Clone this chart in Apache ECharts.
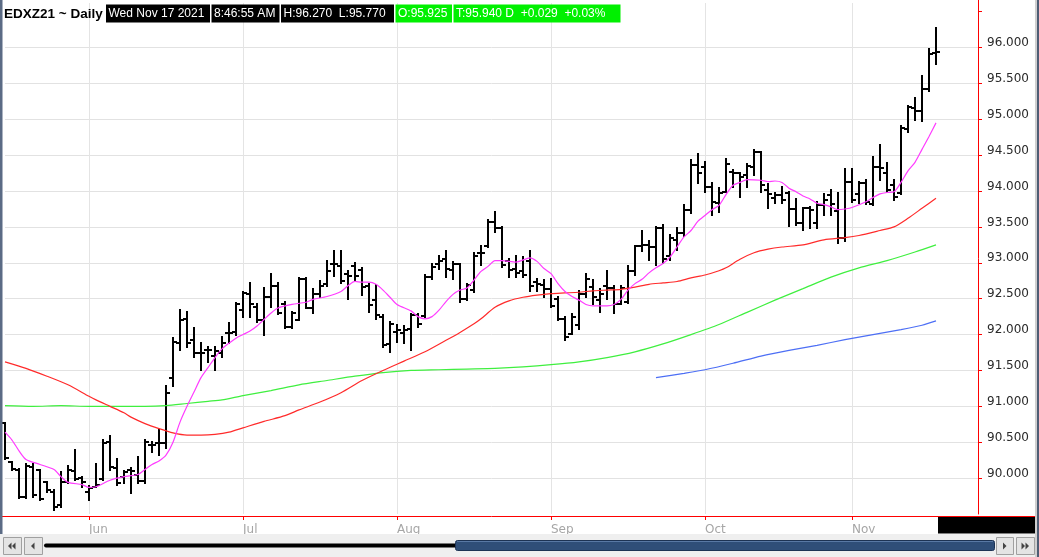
<!DOCTYPE html>
<html>
<head>
<meta charset="utf-8">
<script src="https://cdn.jsdelivr.net/npm/echarts@6/dist/echarts.min.js"></script>
<style>
  html, body { margin: 0; padding: 0; background: #fff; }
  #chart { width: 1039px; height: 557px; }
</style>
</head>
<body>
<div id="chart"></div>
<script>
// month labels and the bar index each one sits on
const monthLabels = ["Jun", "Jul", "Aug", "Sep", "Oct", "Nov"];
const monthStart = [12, 34, 56, 78, 100, 121];
const slotCount = 140; // bars plus empty room on the right

// daily OHLC, EDXZ21
const opens = [90.77,90.23,90.12,89.74,90.16,90.11,89.94,89.81,89.62,89.95,
  90.10,90.00,89.80,89.88,89.99,90.50,90.14,90.01,90.12,90.05,
  89.96,90.46,90.49,90.49,91.39,91.88,92.22,91.93,91.74,91.78,
  91.70,91.74,92.02,92.03,92.34,92.56,92.39,92.21,92.53,92.67,
  92.42,92.10,92.21,92.77,92.37,92.56,92.70,92.98,92.95,92.84,
  92.95,92.90,92.68,92.48,92.24,91.87,92.04,92.02,92.08,92.27,
  92.26,92.80,92.99,93.06,92.90,92.99,92.50,92.62,93.13,93.24,
  93.57,93.48,93.02,92.92,92.88,93.03,92.73,92.69,92.64,92.50,
  92.22,92.01,92.14,92.57,92.66,92.48,92.67,92.65,92.42,92.46,
  92.88,93.23,93.25,93.22,93.48,93.09,93.32,93.41,93.74,94.36,
  94.34,94.06,93.83,93.99,94.27,94.25,94.22,94.33,94.55,94.02,
  93.90,93.94,93.97,93.75,93.56,93.76,93.55,93.80,93.94,93.72,
  93.35,94.13,93.96,94.11,93.82,94.34,94.25,94.08,93.97,94.87,
  95.16,95.12,95.42,95.925];
const highs = [90.77,90.23,90.13,90.19,90.20,90.11,89.95,89.84,90.08,90.17,
  90.39,90.02,89.89,90.19,90.53,90.58,90.27,90.10,90.14,90.30,
  90.53,90.51,90.67,91.28,91.95,92.34,92.31,92.09,91.88,91.83,
  91.83,91.97,92.16,92.44,92.60,92.72,92.42,92.65,92.84,92.72,
  92.46,92.32,92.79,92.79,92.63,92.74,93.02,93.16,93.16,92.88,
  93.00,92.93,92.71,92.69,92.27,92.17,92.13,92.12,92.29,92.29,
  92.83,92.99,93.10,93.17,93.01,92.99,92.71,93.13,93.24,93.59,
  93.71,93.50,93.06,93.10,93.08,93.17,92.78,92.76,92.78,92.52,
  92.24,92.29,92.61,92.85,92.76,92.64,92.88,92.67,92.67,92.95,
  93.23,93.44,93.30,93.50,93.53,93.39,93.48,93.81,94.43,94.52,
  94.41,94.11,94.04,94.45,94.29,94.25,94.38,94.57,94.55,94.10,
  93.97,94.06,93.99,93.89,93.77,93.78,93.85,93.96,94.01,93.97,
  94.31,94.31,94.13,94.16,94.48,94.64,94.39,94.15,94.90,95.19,
  95.29,95.60,95.98,96.27];
const lows = [90.27,90.12,89.72,89.72,89.74,89.69,89.80,89.56,89.60,89.93,
  89.97,89.88,89.70,89.87,89.97,90.12,89.90,89.93,89.79,89.93,
  89.93,90.37,90.32,90.42,91.28,91.79,91.83,91.69,91.51,91.62,
  91.51,91.69,91.88,92.00,92.25,92.25,92.18,92.00,92.39,92.28,
  92.09,92.09,92.21,92.37,92.30,92.53,92.67,92.81,92.72,92.49,
  92.74,92.55,92.31,92.22,91.83,91.76,91.90,91.88,91.78,92.10,
  92.24,92.78,92.92,92.80,92.78,92.45,92.48,92.59,92.97,93.22,
  93.43,92.94,92.80,92.80,92.80,92.61,92.61,92.52,92.38,92.20,
  91.92,92.01,92.08,92.52,92.43,92.31,92.49,92.30,92.42,92.44,
  92.83,93.16,93.04,92.97,93.00,93.04,93.18,93.37,93.69,94.11,
  93.99,93.67,93.71,93.99,94.06,93.92,94.06,94.23,93.99,93.76,
  93.83,93.83,93.51,93.53,93.46,93.48,93.48,93.67,93.66,93.27,
  93.31,93.85,93.83,93.82,93.80,94.15,93.99,93.87,93.96,94.82,
  94.99,94.97,95.40,95.77];
const closes = [90.28,90.13,89.73,90.17,89.77,89.71,89.84,89.60,89.95,90.11,
  89.99,89.95,89.86,89.90,90.49,90.15,89.93,90.08,90.10,89.96,
  90.50,90.46,90.49,91.18,91.90,92.20,91.88,91.74,91.74,91.78,
  91.77,91.88,92.02,92.42,92.58,92.42,92.21,92.53,92.67,92.30,
  92.11,92.30,92.77,92.37,92.56,92.67,92.88,92.98,92.74,92.81,
  92.81,92.66,92.41,92.27,91.85,92.15,92.06,92.07,92.27,92.15,
  92.80,92.94,93.03,92.92,92.99,92.50,92.69,93.10,93.13,93.57,
  93.48,92.97,92.90,92.86,92.83,92.68,92.71,92.64,92.40,92.22,
  91.96,92.24,92.57,92.78,92.52,92.57,92.65,92.42,92.65,92.88,
  93.23,93.25,93.22,93.48,93.06,93.34,93.41,93.74,94.36,94.25,
  94.06,93.85,93.97,94.38,94.25,94.20,94.35,94.55,94.08,93.96,
  93.94,93.88,93.75,93.56,93.76,93.74,93.80,93.88,93.82,93.34,
  94.13,93.88,94.11,93.85,94.34,94.32,94.01,93.92,94.88,95.17,
  95.12,95.42,95.91,95.94];

// moving averages, [bar index, value]
const maFast = [[0,90.64],[1,90.53],[2,90.38],[3,90.26],[5,90.19],[7,90.12],[8,90.02],[9,89.94],[11,89.91],[12,89.87],
  [13,89.88],[15,89.97],[17,90.02],[19,90.05],[20,90.12],[21,90.19],[22,90.24],[23,90.32],[24,90.50],[25,90.78],
  [26,91.00],[27,91.20],[28,91.40],[29,91.54],[30,91.68],[31,91.80],[32,91.88],[33,91.95],[34,92.00],[35,92.05],
  [36,92.12],[37,92.21],[38,92.30],[39,92.37],[41,92.42],[43,92.45],[44,92.49],[46,92.53],[48,92.60],[49,92.68],
  [50,92.74],[51,92.73],[52,92.73],[53,92.70],[54,92.62],[55,92.52],[56,92.42],[58,92.33],[59,92.25],[60,92.22],
  [61,92.25],[62,92.34],[63,92.46],[64,92.56],[65,92.62],[66,92.65],[67,92.76],[68,92.88],[69,92.95],[70,93.03],
  [71,93.03],[73,93.01],[75,93.07],[76,93.02],[77,92.92],[78,92.85],[79,92.71],[80,92.60],[81,92.53],[82,92.48],
  [83,92.42],[84,92.40],[86,92.40],[87,92.42],[88,92.49],[89,92.62],[90,92.71],[91,92.77],[92,92.86],[93,92.93],
  [94,92.99],[95,93.08],[96,93.22],[97,93.36],[98,93.45],[99,93.58],[100,93.66],[101,93.74],[102,93.80],[103,93.95],
  [104,94.08],[105,94.12],[106,94.16],[108,94.15],[109,94.13],[110,94.14],[111,94.12],[112,94.04],[113,93.99],[114,93.93],
  [115,93.89],[116,93.83],[117,93.81],[118,93.78],[119,93.74],[120,93.75],[121,93.77],[123,93.85],[124,93.91],[125,93.96],
  [126,93.98],[127,93.99],[128,94.12],[129,94.28],[130,94.40],[131,94.58],[132,94.76],[133,94.95]];
const maMid = [[0,91.62],[3,91.53],[6,91.42],[9,91.30],[12,91.14],[13,91.09],[15,91.00],[17,90.91],[18,90.85],[20,90.76],
  [22,90.69],[24,90.63],[26,90.60],[28,90.60],[30,90.61],[32,90.64],[34,90.70],[37,90.79],[40,90.87],[42,90.95],
  [45,91.06],[48,91.19],[51,91.36],[54,91.50],[57,91.63],[60,91.76],[63,91.92],[65,92.03],[67,92.15],[68,92.22],
  [70,92.38],[72,92.47],[74,92.52],[76,92.55],[78,92.57],[80,92.58],[82,92.59],[84,92.61],[86,92.62],[88,92.63],
  [90,92.66],[92,92.70],[94,92.72],[96,92.74],[98,92.79],[100,92.83],[102,92.89],[103,92.93],[105,93.05],[107,93.14],
  [109,93.19],[111,93.22],[114,93.25],[117,93.32],[120,93.35],[122,93.38],[125,93.45],[127,93.50],[129,93.62],[131,93.76],
  [133,93.90]];
const maSlow = [[0,91.01],[4,91.00],[8,91.01],[12,91.00],[16,91.00],[20,91.00],[23,91.01],[26,91.04],[29,91.07],[31,91.09],
  [34,91.15],[38,91.22],[42,91.30],[46,91.36],[50,91.42],[54,91.47],[58,91.50],[62,91.51],[66,91.52],[70,91.53],
  [74,91.55],[78,91.58],[82,91.62],[86,91.68],[90,91.76],[94,91.87],[98,92.00],[102,92.14],[106,92.31],[110,92.48],
  [114,92.64],[118,92.80],[122,92.93],[126,93.03],[130,93.15],[133,93.25]];
const maLong = [[93,91.40],[97,91.46],[100,91.51],[104,91.60],[108,91.70],[112,91.78],[116,91.85],[120,91.93],[124,92.00],
  [128,92.07],[131,92.13],[133,92.19]];

const slots = [];
for (let i = 0; i < slotCount; i++) slots.push(String(i));
const ohlc = opens.map((o, i) => [i, o, highs[i], lows[i], closes[i]]);
const isMonth = (i) => monthStart.indexOf(i) >= 0;

const chart = echarts.init(document.getElementById("chart"), null, { renderer: "canvas" });

function renderBar(params, api) {
  const x = Math.round(api.coord([api.value(0), 0])[0]);
  const yO = Math.round(api.coord([api.value(0), api.value(1)])[1]);
  const yH = Math.round(api.coord([api.value(0), api.value(2)])[1]);
  const yL = Math.round(api.coord([api.value(0), api.value(3)])[1]);
  const yC = Math.round(api.coord([api.value(0), api.value(4)])[1]);
  const st = { stroke: "#000", lineWidth: 2 };
  return {
    type: "group",
    children: [
      { type: "line", shape: { x1: x, y1: yH - 1, x2: x, y2: yL + 1 }, style: st },
      { type: "line", shape: { x1: x - 4, y1: yO, x2: x, y2: yO }, style: st },
      { type: "line", shape: { x1: x, y1: yC, x2: x + 4, y2: yC }, style: st },
    ],
  };
}

function maLine(data, color) {
  return {
    type: "line", data: data, showSymbol: false, smooth: 0.25, silent: true, z: 3,
    lineStyle: { color: color, width: 1.2 },
  };
}

// horizontal grid colours, the last (96.5) one hidden
const hLineColors = [];
for (let i = 0; i < 13; i++) hLineColors.push("#e2e2e2");
hLineColors.push("rgba(0,0,0,0)");

const hdrFont = '12px "Liberation Sans", Arial, sans-serif';
function box(x, w, fill, label) {
  return [
    { type: "rect", z: 100, shape: { x: x, y: 4.5, width: w, height: 18 }, style: { fill: fill } },
    { type: "text", z: 101, x: x + 2.5, y: 14, style: { text: label, fill: "#fff", font: hdrFont, verticalAlign: "middle" } },
  ];
}
function tri(cx, dir) {
  return { type: "polygon", z: 102, shape: { points: dir < 0
    ? [[cx - 2, 546], [cx + 1.5, 542.5], [cx + 1.5, 549.5]]
    : [[cx + 2, 546], [cx - 1.5, 542.5], [cx - 1.5, 549.5]] }, style: { fill: "#444" } };
}
function button(x, w) {
  return { type: "rect", z: 101, shape: { x: x + 0.5, y: 537.5, width: w, height: 17 },
    style: { fill: "#e4e4e4", stroke: "#a0a0a0", lineWidth: 1 } };
}

const graphics = [
  { type: "text", z: 100, x: 4, y: 14, style: { text: "EDXZ21 ~ Daily", fill: "#000",
    font: 'bold 13.5px "Liberation Sans", Arial, sans-serif', verticalAlign: "middle" } },
  ...box(106, 104, "#000", "Wed Nov 17 2021"),
  ...box(211.5, 68, "#000", "8:46:55 AM"),
  ...box(281, 113, "#000", "H:96.270  L:95.770"),
  ...box(395.5, 56.5, "#00f000", "O:95.925"),
  ...box(453.5, 167, "#00f000", "T:95.940 D  +0.029  +0.03%"),
  // frame
  { type: "rect", z: 100, shape: { x: 0, y: 0, width: 2.5, height: 534 }, style: { fill: "#5b6b85" } },
  { type: "rect", z: 100, shape: { x: 1035, y: 0, width: 4, height: 557 }, style: { fill: "#cfcfcf" } },
  { type: "rect", z: 100, shape: { x: 1037, y: 0, width: 2, height: 557 }, style: { fill: "#4e5d74" } },
  { type: "line", z: 99, shape: { x1: 2, y1: 516.5, x2: 6, y2: 516.5 }, style: { stroke: "#ff0000", lineWidth: 1 } },
  { type: "line", z: 99, shape: { x1: 978, y1: 516.5, x2: 1035, y2: 516.5 }, style: { stroke: "#ff0000", lineWidth: 1 } },
  { type: "line", z: 99, shape: { x1: 978.5, y1: 0, x2: 978.5, y2: 4 }, style: { stroke: "#ff0000", lineWidth: 1 } },
  { type: "rect", z: 100, shape: { x: 938, y: 517, width: 97, height: 16.5 }, style: { fill: "#000" } },
  // scroll bar
  { type: "rect", z: 100, shape: { x: 0, y: 534, width: 1035, height: 23 }, style: { fill: "#efefef" } },
  button(3, 18), tri(10, -1), tri(14, -1),
  button(24, 18), tri(33, -1),
  button(996, 17), tri(1004.5, 1),
  button(1016, 18), tri(1023, 1), tri(1027, 1),
  { type: "line", z: 101, shape: { x1: 46, y1: 545.5, x2: 456, y2: 545.5 },
    style: { stroke: "#000", lineWidth: 4, lineCap: "round" } },
  { type: "rect", z: 101, shape: { x: 455.5, y: 540.5, width: 539, height: 10, r: 2 },
    style: { fill: "#2f4e78", stroke: "#1d3354", lineWidth: 1 } },
  { type: "line", z: 102, shape: { x1: 457, y1: 541.5, x2: 993, y2: 541.5 }, style: { stroke: "#5878a4", lineWidth: 1 } },
];

const option = {
  animation: false,
  backgroundColor: "#fff",
  grid: { left: 5, right: 61, top: 3, bottom: 43, containLabel: false },
  xAxis: {
    type: "category",
    data: slots,
    boundaryGap: false,
    offset: 2,
    axisLine: { onZero: false, lineStyle: { color: "#ff0000", width: 1 } },
    axisTick: { show: true, interval: (i) => isMonth(i), length: 4, lineStyle: { color: "#ff0000" } },
    axisLabel: {
      interval: (i) => isMonth(i),
      formatter: (v, i) => monthLabels[monthStart.indexOf(Number(v))] || "",
      color: "#a6a6a6", fontFamily: '"DejaVu Sans", sans-serif', fontSize: 12, align: "left", margin: 8,
    },
    splitLine: { show: true, interval: (i) => isMonth(i), lineStyle: { color: "#e4e4e4", width: 1 } },
  },
  yAxis: {
    type: "value",
    position: "right",
    min: 89.5,
    max: 96.62,
    interval: 0.5,
    axisLine: { show: true, lineStyle: { color: "#ff0000", width: 1 } },
    axisTick: { show: true, length: 4, lineStyle: { color: "#ff0000" } },
    axisLabel: {
      showMinLabel: false, showMaxLabel: false,
      formatter: (v) => (v > 89.9 && v < 96.1 ? v.toFixed(3) : ""),
      color: "#2a2a2a", fontFamily: '"DejaVu Sans", sans-serif', fontSize: 12, margin: 9,
      verticalAlign: "bottom", lineHeight: 9,
    },
    splitLine: { show: true, showMinLine: false, showMaxLine: false, lineStyle: { color: hLineColors, width: 1 } },
  },
  series: [
    maLine(maLong, "#4d6ff5"),
    maLine(maSlow, "#3fef3f"),
    maLine(maMid, "#ff2b2b"),
    maLine(maFast, "#ff3cff"),
    {
      type: "custom",
      renderItem: renderBar,
      data: ohlc,
      encode: { x: 0, y: [1, 2, 3, 4] },
      clip: false,
      z: 2,
    },
  ],
  graphic: graphics,
};

chart.setOption(option);
</script>
</body>
</html>
